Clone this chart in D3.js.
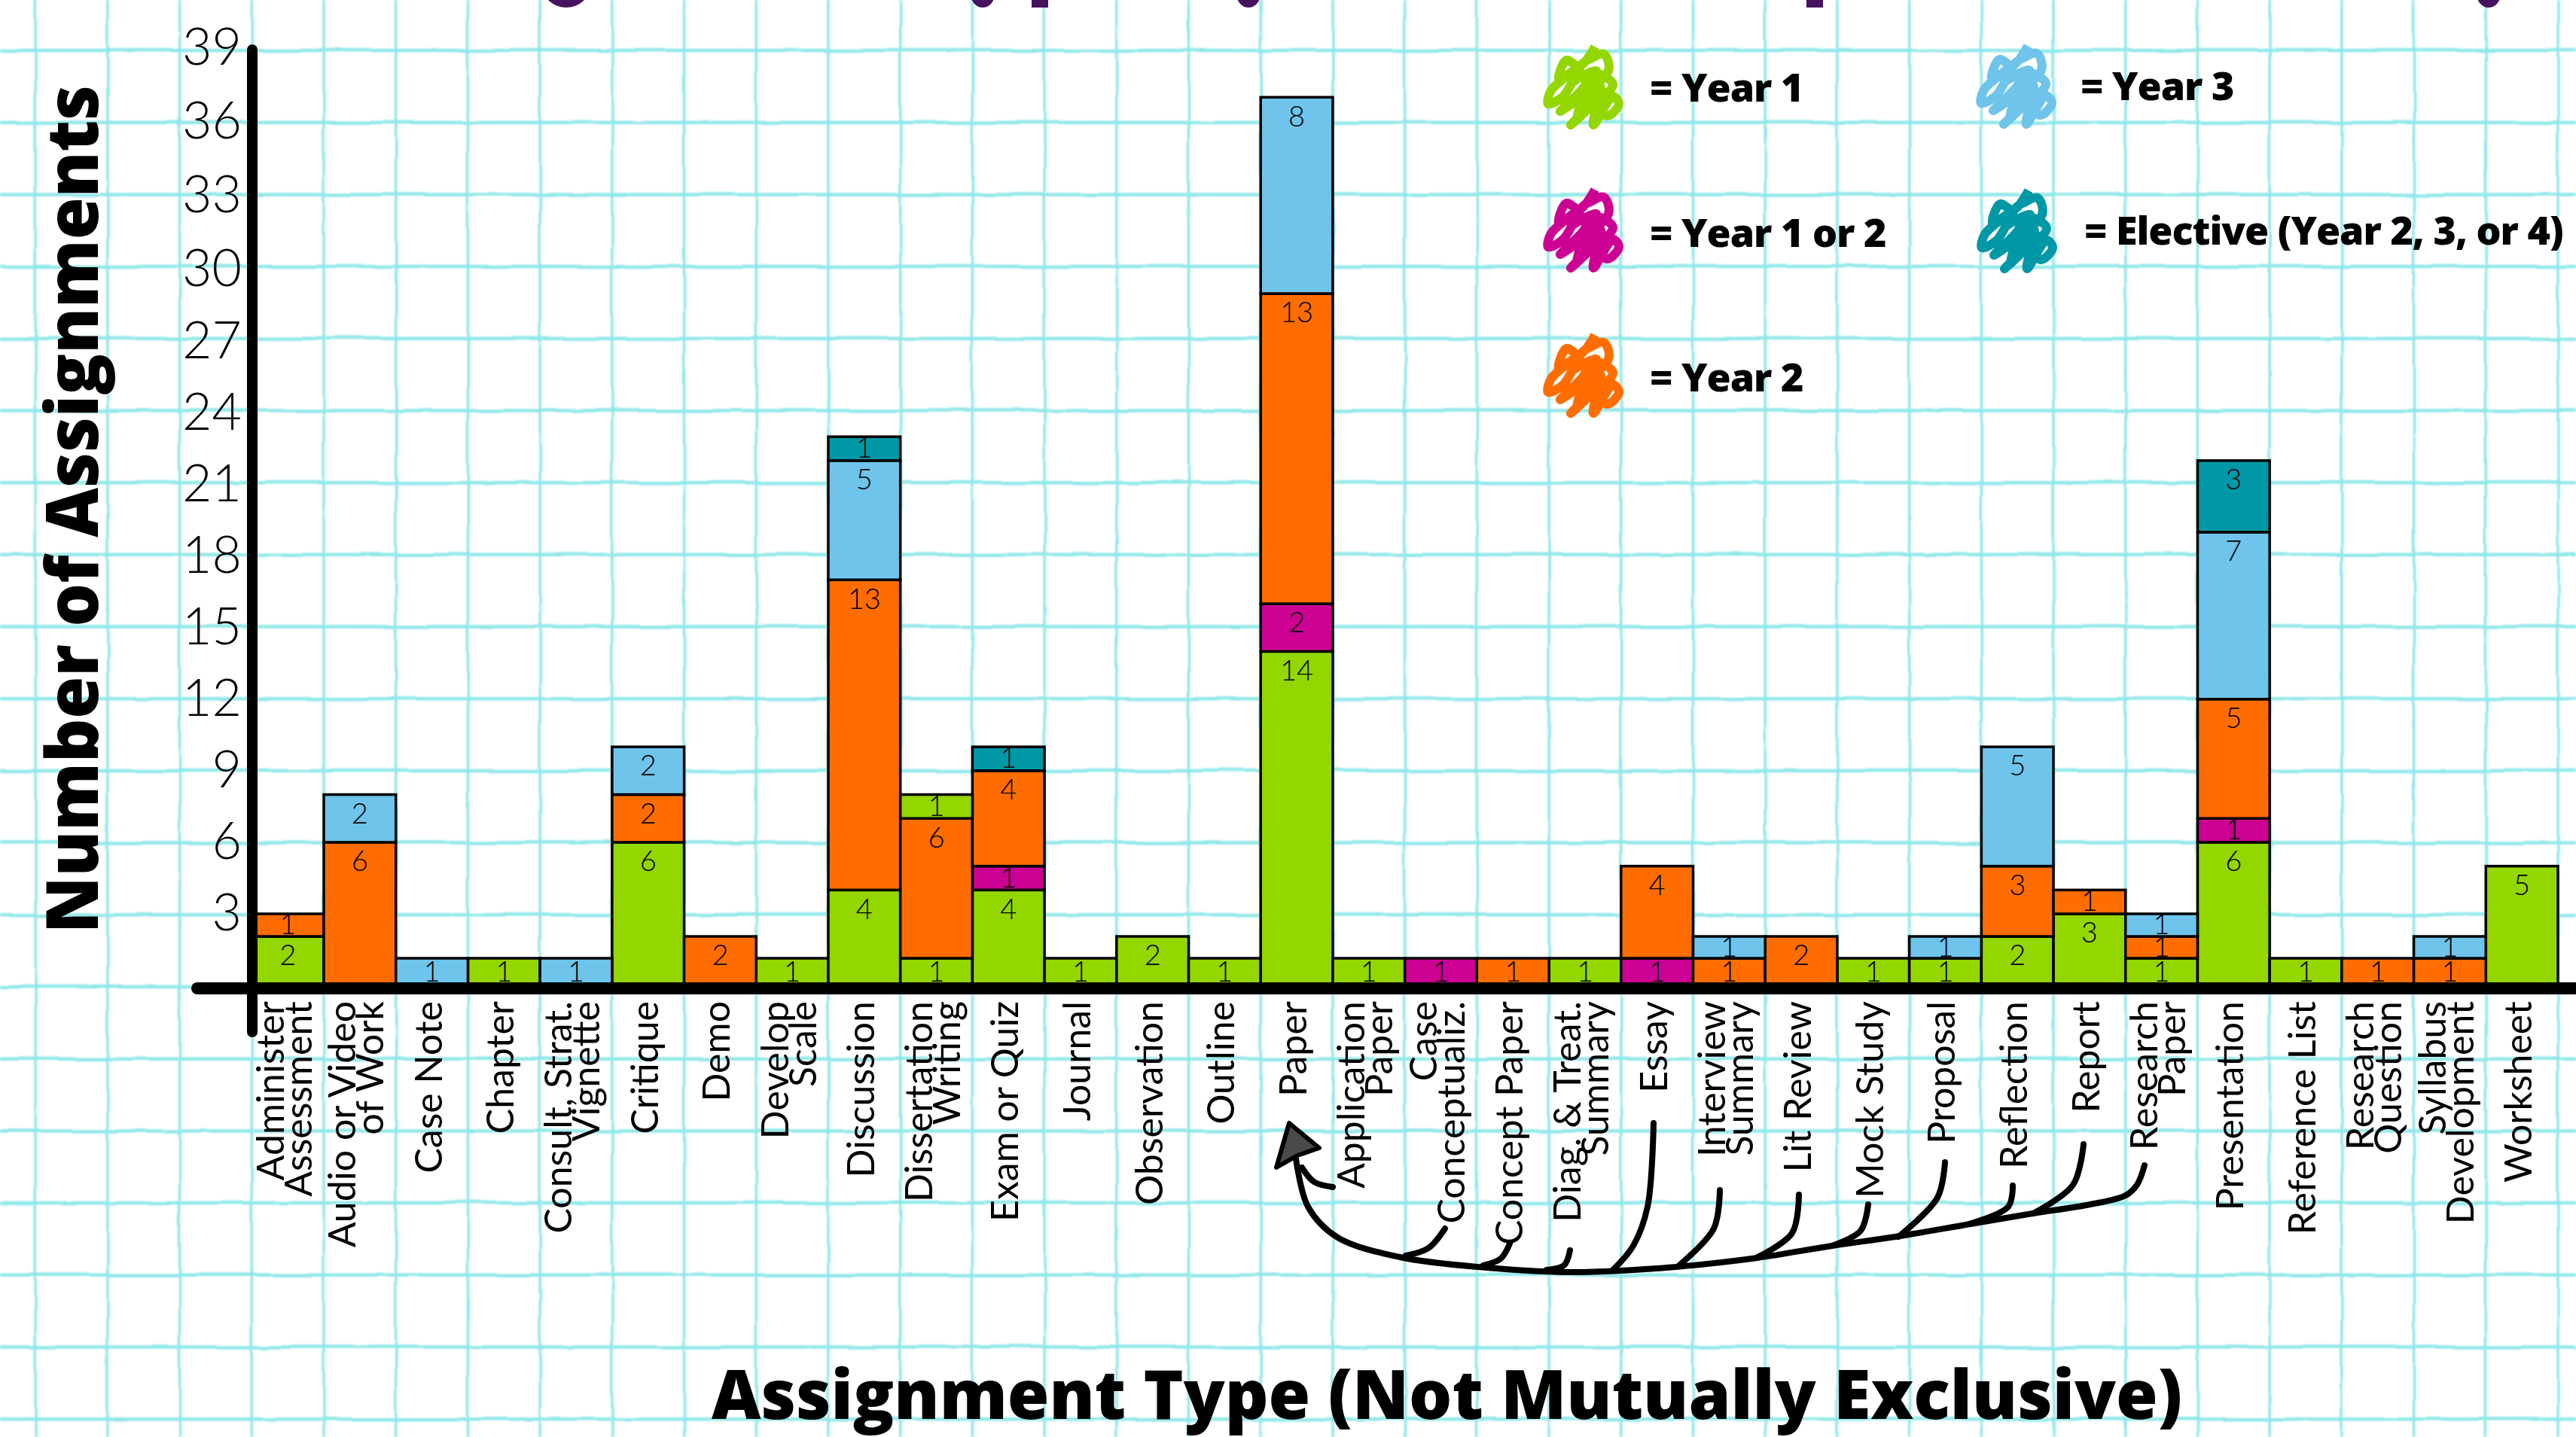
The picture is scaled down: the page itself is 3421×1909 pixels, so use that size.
<!DOCTYPE html>
<html>
<head>
<meta charset="utf-8">
<script src="https://cdn.jsdelivr.net/npm/d3@7"></script>
<style>
  html, body { margin: 0; padding: 0; background: #fff; overflow: hidden; }
  svg { display: block; }
  .hand { font-family: Lato, sans-serif; font-weight: 400; fill: #000; }
  .thin { font-family: Lato, sans-serif; font-weight: 300; fill: #000; }
  .heavy { font-family: "Open Sans", sans-serif; font-weight: 800; fill: #000; }
</style>
</head>
<body>
<svg id="chart" width="3421" height="1909"></svg>
<script>
const categories = [
  "Administer\nAssessment", "Audio or Video\nof Work", "Case Note", "Chapter",
  "Consult, Strat.\nVignette", "Critique", "Demo", "Develop\nScale", "Discussion",
  "Dissertation\nWriting", "Exam or Quiz", "Journal", "Observation", "Outline", "Paper",
  "Application\nPaper", "Case\nConceptualiz.", "Concept Paper", "Diag. & Treat.\nSummary",
  "Essay", "Interview\nSummary", "Lit Review", "Mock Study", "Proposal", "Reflection",
  "Report", "Research\nPaper", "Presentation", "Reference List", "Research\nQuestion",
  "Syllabus\nDevelopment", "Worksheet"
];

const year1 =     [2,0,0,1,0,6,0,1,4,1,4,1,2,1,14,1,0,0,1,0,0,0,1,1,2,3,1,6,1,0,0,5];
const year1or2 =  [0,0,0,0,0,0,0,0,0,0,1,0,0,0,2,0,1,0,0,1,0,0,0,0,0,0,0,1,0,0,0,0];
const year2 =     [1,6,0,0,0,2,2,0,13,6,4,0,0,0,13,0,0,1,0,4,1,2,0,0,3,1,1,5,0,1,1,0];
const year3 =     [0,2,1,0,1,2,0,0,5,0,0,0,0,0,8,0,0,0,0,0,1,0,0,1,5,0,1,7,0,0,1,0];
const elective =  [0,0,0,0,0,0,0,0,1,0,1,0,0,0,0,0,0,0,0,0,0,0,0,0,0,0,0,3,0,0,0,0];
// Dissertation Writing has a second Year 1 block sitting on top of its Year 2 block
const year1Upper =[0,0,0,0,0,0,0,0,0,1,0,0,0,0,0,0,0,0,0,0,0,0,0,0,0,0,0,0,0,0,0,0];

const yTicks = [3,6,9,12,15,18,21,24,27,30,33,36,39];

const legendLabels = ["= Year 1", "= Year 1 or 2", "= Year 2", "= Year 3", "= Elective (Year 2, 3, or 4)"];

const GREEN = "#94d600", MAGENTA = "#cc0092", ORANGE = "#ff6d00", BLUE = "#6ec4ea", TEAL = "#0098a7";

const seriesKeys = ["year1", "year1or2", "year2", "year3", "elective", "year1Upper"];
const seriesColor = { year1: GREEN, year1or2: MAGENTA, year2: ORANGE, year3: BLUE, elective: TEAL, year1Upper: GREEN };

const rows = categories.map((c, i) => ({
  category: c,
  year1: year1[i], year1or2: year1or2[i], year2: year2[i],
  year3: year3[i], elective: elective[i], year1Upper: year1Upper[i]
}));

const svg = d3.select("#chart");
const defs = svg.append("defs");

// wobble for the hand drawn graph paper
const wobble = defs.append("filter").attr("id", "wobble")
  .attr("filterUnits", "userSpaceOnUse")
  .attr("x", 0).attr("y", 0).attr("width", 3421).attr("height", 1909);
wobble.append("feTurbulence").attr("type", "fractalNoise")
  .attr("baseFrequency", 0.012).attr("numOctaves", 2).attr("seed", 7).attr("result", "n");
wobble.append("feDisplacementMap").attr("in", "SourceGraphic").attr("in2", "n")
  .attr("scale", 5).attr("xChannelSelector", "R").attr("yChannelSelector", "G").attr("result", "d");
wobble.append("feGaussianBlur").attr("in", "d").attr("stdDeviation", 0.8);

const x = d3.scaleBand().domain(categories).range([334.3, 3397]).padding(0);

// the short stacks were drawn a bit taller than the rest of the axis, hence the extra stops
const y = d3.scaleLinear().domain([0, 1, 2, 3, 29, 39]).range([1311, 1273, 1244, 1214, 390, 64]);

// graph paper squares, one per bar wide and three units tall
const gridY = d3.scaleLinear().domain([0, 39]).range([1311, 67]);
const grid = svg.append("g").attr("filter", "url(#wobble)").attr("stroke", "#8fe7ea").attr("fill", "none");

grid.selectAll("line.v")
  .data(d3.range(-3, 33))
  .enter().append("line").attr("class", "v")
  .attr("x1", d => x(categories[0]) + d * x.step())
  .attr("x2", d => x(categories[0]) + d * x.step())
  .attr("y1", -10).attr("y2", 1920)
  .attr("stroke-width", 3.5);

grid.selectAll("line.h")
  .data(d3.range(-18, 40, 3))
  .enter().append("line").attr("class", "h")
  .attr("x1", -10).attr("x2", 3431)
  .attr("y1", d => gridY(d)).attr("y2", d => gridY(d))
  .attr("stroke-width", 4.5);

// bottoms of the title glyphs, the title itself is cut off by the crop
const titleInk = svg.append("g").attr("fill", "#46125f");
titleInk.append("ellipse").attr("cx", 752).attr("cy", -20).attr("rx", 32).attr("ry", 30);
titleInk.append("ellipse").attr("cx", 1305).attr("cy", -8).attr("rx", 16).attr("ry", 18);
titleInk.append("rect").attr("x", 1370).attr("y", 0).attr("width", 22).attr("height", 10);
titleInk.append("ellipse").attr("cx", 1658).attr("cy", -8).attr("rx", 16).attr("ry", 18);
titleInk.append("rect").attr("x", 2399).attr("y", 0).attr("width", 22).attr("height", 10);
titleInk.append("ellipse").attr("cx", 3305).attr("cy", -8).attr("rx", 16).attr("ry", 18);

// stacked bars
const stacked = d3.stack().keys(seriesKeys)(rows);
const layers = svg.append("g").selectAll("g")
  .data(stacked)
  .enter().append("g")
  .attr("fill", d => seriesColor[d.key]);

const segments = layers.selectAll("g")
  .data(d => d.filter(s => s[1] > s[0]))
  .enter().append("g");

segments.append("rect")
  .attr("x", d => x(d.data.category))
  .attr("width", x.bandwidth())
  .attr("y", d => y(d[1]))
  .attr("height", d => y(d[0]) - y(d[1]))
  .attr("stroke", "#000")
  .attr("stroke-width", 3.5);

segments.append("text")
  .attr("class", "thin")
  .attr("x", d => x(d.data.category) + x.bandwidth() / 2)
  .attr("y", d => {
    const h = y(d[0]) - y(d[1]);
    return y(d[1]) + Math.min(h / 2 - 1, 25);
  })
  .attr("dy", "0.35em")
  .attr("text-anchor", "middle")
  .attr("font-size", 38)
  .text(d => d[1] - d[0]);

// y axis labels
const yAxis = d3.axisLeft(y).tickValues(yTicks).tickSize(0).tickPadding(0);
const yG = svg.append("g").attr("transform", "translate(321,0)").call(yAxis);
yG.select(".domain").remove();
yG.selectAll("text").attr("class", "thin").attr("font-size", 68).attr("font-family", null);

// x axis labels, rotated and split over two lines where needed
const xAxis = d3.axisBottom(x).tickSize(0).tickFormat("");
const xG = svg.append("g").attr("transform", "translate(-4,1330)").call(xAxis);
xG.select(".domain").remove();
xG.selectAll(".tick text").remove();
xG.selectAll(".tick").append("text")
  .attr("class", "hand")
  .attr("font-size", 50)
  .attr("text-anchor", "end")
  .attr("transform", "rotate(-90)")
  .each(function (d) {
    const lines = d.split("\n");
    const lineGap = 37;
    lines.forEach((line, i) => {
      d3.select(this).append("tspan")
        .attr("x", 0)
        .attr("y", (i - (lines.length - 1) / 2) * lineGap + 17)
        .text(line);
    });
  });

// axis lines
svg.append("line").attr("x1", 335).attr("x2", 335).attr("y1", 66).attr("y2", 1371)
  .attr("stroke", "#000").attr("stroke-width", 14).attr("stroke-linecap", "round");
svg.append("line").attr("x1", 262).attr("x2", 3440).attr("y1", 1313).attr("y2", 1313)
  .attr("stroke", "#000").attr("stroke-width", 16).attr("stroke-linecap", "round");

// axis titles
svg.append("text").attr("class", "heavy")
  .attr("transform", "translate(130,1240) rotate(-90)")
  .attr("font-size", 96)
  .attr("textLength", 1127)
  .attr("lengthAdjust", "spacingAndGlyphs")
  .text("Number of Assignments");

svg.append("text").attr("class", "heavy")
  .attr("x", 945).attr("y", 1885)
  .attr("font-size", 90)
  .attr("textLength", 1953)
  .attr("lengthAdjust", "spacingAndGlyphs")
  .text("Assignment Type (Not Mutually Exclusive)");

// legend
const scribble = [
  [72,8],[52,34],[34,26],[24,52],[46,38],[14,66],[10,84],[30,74],[56,30],[66,24],[84,18],[90,40],
  [26,94],[54,66],[72,44],[96,58],[62,92],[40,112],[72,78],[80,62],[70,112],[96,74],[104,84],[88,100],
  [60,70],[48,104],[74,40],[38,58]
];
const scribbleLine = d3.line().curve(d3.curveCatmullRom);
const legendPos = [
  { sx: 2046, sy: 54, tx: 2191, ty: 135 },
  { sx: 2046, sy: 244, tx: 2191, ty: 328 },
  { sx: 2046, sy: 437, tx: 2191, ty: 520 },
  { sx: 2621, sy: 53, tx: 2763, ty: 133 },
  { sx: 2622, sy: 245, tx: 2768, ty: 325 }
];
const legendColors = [GREEN, MAGENTA, ORANGE, BLUE, TEAL];

const legend = svg.append("g").selectAll("g")
  .data(legendLabels)
  .enter().append("g");

legend.append("path")
  .attr("d", scribbleLine(scribble))
  .attr("transform", (d, i) => `translate(${legendPos[i].sx},${legendPos[i].sy})`)
  .attr("fill", "none")
  .attr("stroke", (d, i) => legendColors[i])
  .attr("stroke-width", 12)
  .attr("stroke-linejoin", "round");

legend.append("text")
  .attr("class", "heavy")
  .attr("x", (d, i) => legendPos[i].tx)
  .attr("y", (d, i) => legendPos[i].ty)
  .attr("font-size", 52)
  .attr("letter-spacing", -1)
  .text(d => d);

// arrow gathering the paper-like assignment types back to Paper
const trunk = [
  [2848,1548],[2838,1574],[2823,1588],[2776,1600],[2700,1612],[2617,1626],[2517,1643],[2433,1655],
  [2334,1671],[2226,1683],[2089,1690],[1974,1684],[1859,1670],[1775,1643],[1737,1603],[1721,1539]
];
const branches = [
  [[1770,1577],[1745,1570],[1729,1551]],
  [[1919,1632],[1897,1658],[1867,1668]],
  [[2005,1652],[1993,1672],[1970,1681]],
  [[2085,1661],[2077,1681],[2054,1687]],
  [[2196,1492],[2188,1603],[2169,1655],[2142,1687]],
  [[2284,1581],[2276,1632],[2230,1681]],
  [[2389,1587],[2380,1638],[2334,1670]],
  [[2481,1600],[2471,1635],[2433,1655]],
  [[2583,1544],[2573,1591],[2521,1643]],
  [[2673,1575],[2667,1603],[2615,1626]],
  [[2767,1520],[2753,1574],[2700,1612]]
];
const arrowLine = d3.line().curve(d3.curveCatmullRom);
const arrow = svg.append("g").attr("fill", "none").attr("stroke", "#000")
  .attr("stroke-width", 8).attr("stroke-linecap", "round");
arrow.append("path").attr("d", arrowLine(trunk));
arrow.selectAll("path.branch").data(branches).enter().append("path")
  .attr("class", "branch").attr("d", d => arrowLine(d));

svg.append("path")
  .attr("d", "M1712,1492L1695,1551L1723,1535L1752,1525Z")
  .attr("fill", "#4a4a4a").attr("stroke", "#000").attr("stroke-width", 6).attr("stroke-linejoin", "round");
</script>
</body>
</html>
